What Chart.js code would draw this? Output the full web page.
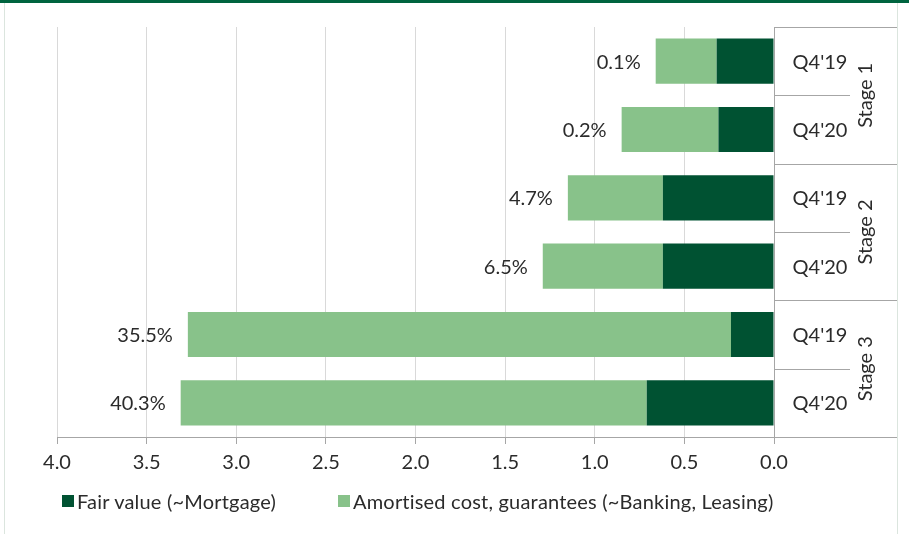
<!DOCTYPE html>
<html>
<head>
<meta charset="utf-8">
<script src="https://cdn.jsdelivr.net/npm/chart.js@4.4.1/dist/chart.umd.min.js"></script>
<style>
  body { margin: 0; background: #fff; font-family: Lato, sans-serif; }
  #wrap { position: relative; width: 909px; height: 534px; overflow: hidden; }
  #topBand { position: absolute; left: 0; top: 0; width: 909px; height: 3px; background: #00643f; }
  #frame { position: absolute; left: 4px; top: 3px; width: 892px; height: 531px;
           border-left: 1px solid #dbe5de; border-right: 1px solid #dbe5de; }
  canvas { position: absolute; left: 0; top: 0; }
  #legend { position: absolute; top: 489px; left: 0; width: 909px; height: 24px;
            font-size: 20px; color: #2b2b2b; letter-spacing: 0.2px; }
  .item { position: absolute; top: 0; display: flex; align-items: center; white-space: nowrap; }
  .swatch { width: 12px; height: 12px; margin-right: 3px; }
</style>
</head>
<body>
<div id="wrap">
  <div id="topBand"></div>
  <div id="frame"></div>
  <canvas id="chart" width="909" height="534"></canvas>
  <div id="legend"></div>
</div>
<script>
// Categories: quarter per row, grouped into stages of two rows
const quarters = ["Q4'19", "Q4'20", "Q4'19", "Q4'20", "Q4'19", "Q4'20"];
const stages = ['Stage 1', 'Stage 2', 'Stage 3'];
const shareLabels = ['0.1%', '0.2%', '4.7%', '6.5%', '35.5%', '40.3%'];

// Series values
const fairValue = [0.32, 0.31, 0.62, 0.62, 0.24, 0.71];
const amortisedCost = [0.34, 0.54, 0.53, 0.67, 3.03, 2.60];

const seriesNames = ['Fair value (~Mortgage)', 'Amortised cost, guarantees (~Banking, Leasing)'];
const seriesColors = ['#005232', '#88c28a'];

// X axis ticks
const xMin = 0;
const xMax = 4;
const xStep = 0.5;

const textColor = '#2b2b2b';
const fontFamily = 'Lato, sans-serif';
const fontSize = 20;

// Percentage labels to the left of each stacked bar
const shareLabelPlugin = {
    id: 'shareLabels',
    afterDatasetsDraw(chart) {
        const ctx = chart.ctx;
        const meta = chart.getDatasetMeta(chart.data.datasets.length - 1);
        ctx.save();
        ctx.font = `${fontSize}px ${fontFamily}`;
        ctx.fillStyle = textColor;
        ctx.textAlign = 'right';
        ctx.textBaseline = 'middle';
        meta.data.forEach((bar, i) => {
            ctx.fillText(shareLabels[i], bar.x - 15, bar.y + 1);
        });
        ctx.restore();
    }
};

// Two-level category box on the right (quarter / stage)
const categoryBoxPlugin = {
    id: 'categoryBox',
    afterDraw(chart) {
        const ctx = chart.ctx;
        const area = chart.chartArea;
        const yScale = chart.scales.y;
        const left = area.right;
        const mid = left + 76;
        const right = 897;
        const rowH = (area.bottom - area.top) / quarters.length;

        ctx.save();
        ctx.strokeStyle = '#a6a6a6';
        ctx.lineWidth = 1;

        const hline = (y, x0, x1) => {
            ctx.beginPath();
            ctx.moveTo(x0, Math.round(y) + 0.5);
            ctx.lineTo(x1, Math.round(y) + 0.5);
            ctx.stroke();
        };

        // vertical axis line at 0.0
        ctx.beginPath();
        ctx.moveTo(left + 0.5, area.top);
        ctx.lineTo(left + 0.5, area.bottom + 7);
        ctx.stroke();

        // top and bottom edges
        hline(area.top, left, right);
        hline(area.bottom, left, right);

        // row separators
        for (let i = 1; i < quarters.length; i++) {
            const y = area.top + rowH * i;
            if (i % 2 === 0) {
                hline(y, left, right);
            } else {
                hline(y, left, mid);
            }
        }

        // quarter labels
        ctx.font = `${fontSize}px ${fontFamily}`;
        ctx.fillStyle = textColor;
        ctx.textAlign = 'center';
        ctx.textBaseline = 'middle';
        quarters.forEach((q, i) => {
            ctx.fillText(q, left + 46, yScale.getPixelForValue(i) + 1);
        });

        // stage labels, rotated
        stages.forEach((s, i) => {
            const y = (yScale.getPixelForValue(i * 2) + yScale.getPixelForValue(i * 2 + 1)) / 2;
            ctx.save();
            ctx.translate(mid + 16, y);
            ctx.rotate(-Math.PI / 2);
            ctx.fillText(s, 0, 0);
            ctx.restore();
        });
        ctx.restore();
    }
};

const ctx = document.getElementById('chart').getContext('2d');
const chart = new Chart(ctx, {
    type: 'bar',
    data: {
        labels: quarters.map((q, i) => `${stages[Math.floor(i / 2)]} ${q}`),
        datasets: [{
            label: seriesNames[0],
            data: fairValue,
            backgroundColor: seriesColors[0],
            categoryPercentage: 1,
            barPercentage: 0.66
        }, {
            label: seriesNames[1],
            data: amortisedCost,
            backgroundColor: seriesColors[1],
            categoryPercentage: 1,
            barPercentage: 0.66
        }]
    },
    options: {
        indexAxis: 'y',
        responsive: false,
        animation: false,
        layout: {
            padding: { top: 27, left: 57, right: 135, bottom: 57 }
        },
        plugins: {
            legend: { display: false },
            tooltip: { enabled: false }
        },
        scales: {
            x: {
                stacked: true,
                reverse: true,
                min: xMin,
                max: xMax,
                ticks: {
                    stepSize: xStep,
                    color: textColor,
                    font: { family: fontFamily, size: fontSize },
                    padding: 7,
                    maxRotation: 0,
                    callback: (v) => Number(v).toFixed(1)
                },
                grid: {
                    color: '#d9d9d9',
                    tickColor: '#a6a6a6',
                    tickLength: 7
                },
                border: { color: '#a6a6a6' },
                afterFit: (scale) => { scale.height = 40; }
            },
            y: {
                stacked: true,
                display: false
            }
        }
    },
    plugins: [shareLabelPlugin, categoryBoxPlugin]
});

// Legend row
const legend = document.getElementById('legend');
const legendLeft = [62, 338];
seriesNames.forEach((name, i) => {
    const item = document.createElement('div');
    item.className = 'item';
    item.style.left = legendLeft[i] + 'px';
    item.innerHTML = `<span class="swatch" style="background:${seriesColors[i]}"></span><span>${name}</span>`;
    legend.appendChild(item);
});
</script>
</body>
</html>
